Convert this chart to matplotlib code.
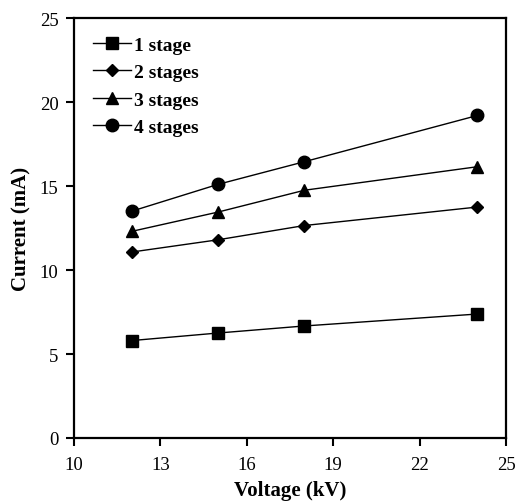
import matplotlib
matplotlib.use("Agg")
import matplotlib.pyplot as plt

plt.rcParams['font.family'] = ['Liberation Serif', 'DejaVu Serif']

voltage = [12, 15, 18, 24]
stage1 = [5.8, 6.25, 6.67, 7.38]
stage2 = [11.07, 11.8, 12.65, 13.75]
stage3 = [12.3, 13.45, 14.75, 16.15]
stage4 = [13.5, 15.1, 16.45, 19.2]
labels = ['1 stage', '2 stages', '3 stages', '4 stages']
markers = ['s', 'D', '^', 'o']
xticks = [10, 13, 16, 19, 22, 25]
yticks = [0, 5, 10, 15, 20, 25]

fig = plt.figure(figsize=(5.17, 5.02), dpi=100)
ax = fig.add_axes([0.143, 0.1255, 0.836, 0.8365])

sizes = [8, 6.5, 9, 9]
for ys, lab, m, s in zip([stage1, stage2, stage3, stage4], labels, markers, sizes):
    ax.plot(voltage, ys, color='black', lw=1.0, marker=m, markersize=s,
            markerfacecolor='black', markeredgecolor='black', label=lab)

ax.set_xlim(10, 25)
ax.set_ylim(0, 25)
ax.set_xticks(xticks)
ax.set_yticks(yticks)
ax.tick_params(direction='out', length=6, width=1.5, labelsize=13.5)
ax.tick_params(axis='x', pad=7)
ax.tick_params(axis='y', pad=5)
for sp in ax.spines.values():
    sp.set_linewidth(1.6)
ax.set_xlabel('Voltage (kV)', fontsize=15, fontweight='bold', labelpad=5)
ax.set_ylabel('Current (mA)', fontsize=15, fontweight='bold', labelpad=6)
leg = ax.legend(loc='upper left', frameon=False, prop={'weight': 'bold', 'size': 14},
                handlelength=2.0, handletextpad=0.15, labelspacing=0.5,
                borderaxespad=0.0, bbox_to_anchor=(0.025, 0.975))

fig.savefig('out.png', dpi=100)
